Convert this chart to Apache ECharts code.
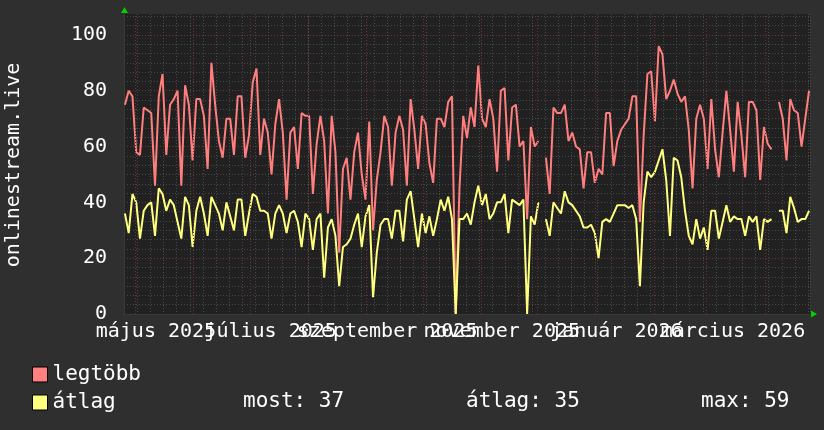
<!DOCTYPE html>
<html>
<head>
<meta charset="utf-8">
<script src="https://cdn.jsdelivr.net/npm/echarts@6/dist/echarts.min.js"></script>
<style>
html,body{margin:0;padding:0;background:#2f2f2f;}
#chart{width:824px;height:430px;}
</style>
</head>
<body>
<div id="chart"></div>
<script>
// ---- data ----
const startDate = '2025-04-25';
const stepDays = 2;
const firstDay = 0.5;
const totalDays = 365;

const legtobb = [75,80,78,58,57,74,73,72,46,78,86,57,75,77,80,46,82,75,55,77,
77,71,52,90,75,62,56,70,70,57,78,78,56,64,83,88,57,70,65,50,
68,77,65,41,65,67,52,72,71,71,43,61,71,62,36,71,58,22,52,56,
41,58,65,50,41,69,30,48,58,71,67,46,65,71,66,46,77,66,52,71,
68,54,47,70,70,67,76,78,0,45,71,63,74,67,89,70,67,77,70,51,
80,81,55,74,75,60,62,34,67,60,62,null,56,43,74,72,72,75,62,65,
60,59,45,58,58,47,52,50,72,72,53,62,66,68,70,78,78,33,64,86,
87,69,96,93,77,80,84,79,76,78,66,45,70,75,70,52,77,59,49,65,
80,66,51,76,64,49,76,76,73,48,67,61,59,null,76,70,55,77,73,72,
60,70,80];

const atlag = [36,29,43,40,27,37,39,40,28,45,43,37,41,39,33,27,42,39,24,37,
42,36,28,42,39,36,30,40,35,30,41,41,28,36,43,42,37,37,36,27,
36,39,36,29,36,37,33,24,36,34,23,34,36,13,31,34,28,10,24,25,
27,32,36,24,35,39,6,22,32,34,34,27,37,37,26,41,44,34,24,36,
29,35,28,34,41,37,42,34,0,34,34,36,32,40,46,39,43,34,36,40,
40,43,29,41,40,39,41,0,35,32,40,null,34,28,40,38,36,44,40,39,
37,35,31,31,32,29,20,33,34,33,36,39,39,39,38,39,34,10,40,51,
49,51,55,59,48,28,56,55,49,37,28,25,34,27,31,23,37,37,27,33,
39,33,35,34,34,28,35,33,35,23,34,33,34,null,37,37,29,42,38,33,
34,34,37];

const seriesNames = ['legtöbb', 'átlag'];
const seriesColors = ['#ff7f7f', '#ffff7f'];
const statTexts = ['most: 37', 'átlag: 35', 'max: 59'];
const axisTitle = 'onlinestream.live';

const monthStartDates = ['2025-05-01','2025-06-01','2025-07-01','2025-08-01','2025-09-01','2025-10-01',
  '2025-11-01','2025-12-01','2026-01-01','2026-02-01','2026-03-01','2026-04-01'];
// labels alternate between two label rows so they may overlap like the original
const labelDatesA = ['2025-05-12','2025-09-12','2026-01-12'];
const labelTextsA = ['május 2025','szeptember 2025','január 2026'];
const labelDatesB = ['2025-07-12','2025-11-12','2026-03-15'];
const labelTextsB = ['július 2025','november 2025','március 2026'];
const yMax = 107.5;
const yStep = 20;

// ---- helpers ----
const DAY = 86400000;
const t0 = Date.parse(startDate + 'T00:00:00Z');
const toDay = s => (Date.parse(s + 'T00:00:00Z') - t0) / DAY;
const monthDays = monthStartDates.map(toDay);
const labelDaysA = labelDatesA.map(toDay);
const labelDaysB = labelDatesB.map(toDay);
const toPairs = arr => arr.map((v, i) => [firstDay + i * stepDays, v == null ? '-' : v]);

const FONT = 'DejaVu Sans Mono';
const chart = echarts.init(document.getElementById('chart'), null, {renderer: 'canvas'});

const labelAxis = (days, texts, showLine) => ({
  type: 'value', min: 0, max: totalDays, position: 'bottom', offset: 0,
  axisLine: {show: showLine, onZero: false, lineStyle: {color: '#3a3a3a', width: 1}},
  axisTick: {show: false},
  splitLine: {show: false},
  axisLabel: {
    customValues: days, showMinLabel: true, showMaxLabel: true, hideOverlap: false,
    color: '#ffffff', fontFamily: FONT, fontSize: 20, margin: 8,
    formatter: v => { const k = days.findIndex(d => Math.abs(d - v) < 0.01); return k >= 0 ? texts[k] : ''; }
  }
});

const option = {
  backgroundColor: '#2f2f2f',
  animation: false,
  grid: {left: 124, right: 14, top: 14, bottom: 116, show: true, backgroundColor: '#212121', borderWidth: 0},
  xAxis: [
    labelAxis(labelDaysA, labelTextsA, true),
    {
      type: 'value', min: 0, max: totalDays, interval: 7, position: 'bottom',
      axisLine: {show: false}, axisTick: {show: false}, axisLabel: {show: false},
      splitLine: {show: true, lineStyle: {color: '#4a4a4a', type: [1, 2], width: 1}}
    },
    labelAxis(labelDaysB, labelTextsB, false)
  ],
  yAxis: {
    type: 'value', min: 0, max: yMax, interval: yStep,
    axisLine: {show: true, lineStyle: {color: '#3a3a3a'}},
    axisTick: {show: false},
    axisLabel: {color: '#ffffff', fontFamily: FONT, fontSize: 20, margin: 17, showMaxLabel: false,
      formatter: v => (v % yStep === 0 ? String(v) : '')},
    splitLine: {show: true, showMaxLine: false, lineStyle: {color: '#6b3535', type: [1, 2]}},
    minorTick: {show: false, splitNumber: 6},
    minorSplitLine: {show: true, lineStyle: {color: '#474747', type: [1, 2]}}
  },
  legend: {
    data: seriesNames, orient: 'vertical', left: 32, top: 364, padding: 0,
    itemWidth: 15, itemHeight: 15, itemGap: 7, icon: 'rect',
    itemStyle: {borderColor: '#000', borderWidth: 1},
    textStyle: {color: '#ffffff', fontFamily: FONT, fontSize: 21},
    selectedMode: false
  },
  graphic: [
    {type: 'text', x: 14, y: 165, rotation: Math.PI / 2,
      style: {text: axisTitle, fill: '#ffffff', font: '20px "' + FONT + '"', textAlign: 'center', textVerticalAlign: 'middle'}},
    {type: 'text', x: 243, y: 402, style: {text: statTexts[0], fill: '#ffffff', font: '21px "' + FONT + '"', textVerticalAlign: 'middle'}},
    {type: 'text', x: 466, y: 402, style: {text: statTexts[1], fill: '#ffffff', font: '21px "' + FONT + '"', textVerticalAlign: 'middle'}},
    {type: 'text', x: 701, y: 402, style: {text: statTexts[2], fill: '#ffffff', font: '21px "' + FONT + '"', textVerticalAlign: 'middle'}},
    {type: 'polygon', shape: {points: [[121, 13], [128, 13], [124.5, 7]]}, style: {fill: '#00d000'}},
    {type: 'polygon', shape: {points: [[811, 310.5], [811, 317.5], [817, 314]]}, style: {fill: '#00d000'}}
  ],
  series: [
    {
      name: '_grid', type: 'line', data: [], silent: true, z: 1,
      markLine: {
        silent: true, symbol: 'none', label: {show: false},
        lineStyle: {color: '#6b3535', type: [1, 2], width: 1},
        data: monthDays.map(d => ({xAxis: d}))
      }
    },
    {name: seriesNames[0], type: 'line', data: toPairs(legtobb), showSymbol: false, z: 3,
      lineStyle: {color: seriesColors[0], width: 2}, itemStyle: {color: seriesColors[0]}, connectNulls: false},
    {name: seriesNames[1], type: 'line', data: toPairs(atlag), showSymbol: false, z: 4,
      lineStyle: {color: seriesColors[1], width: 2}, itemStyle: {color: seriesColors[1]}, connectNulls: false}
  ]
};
chart.setOption(option);
</script>
</body>
</html>
